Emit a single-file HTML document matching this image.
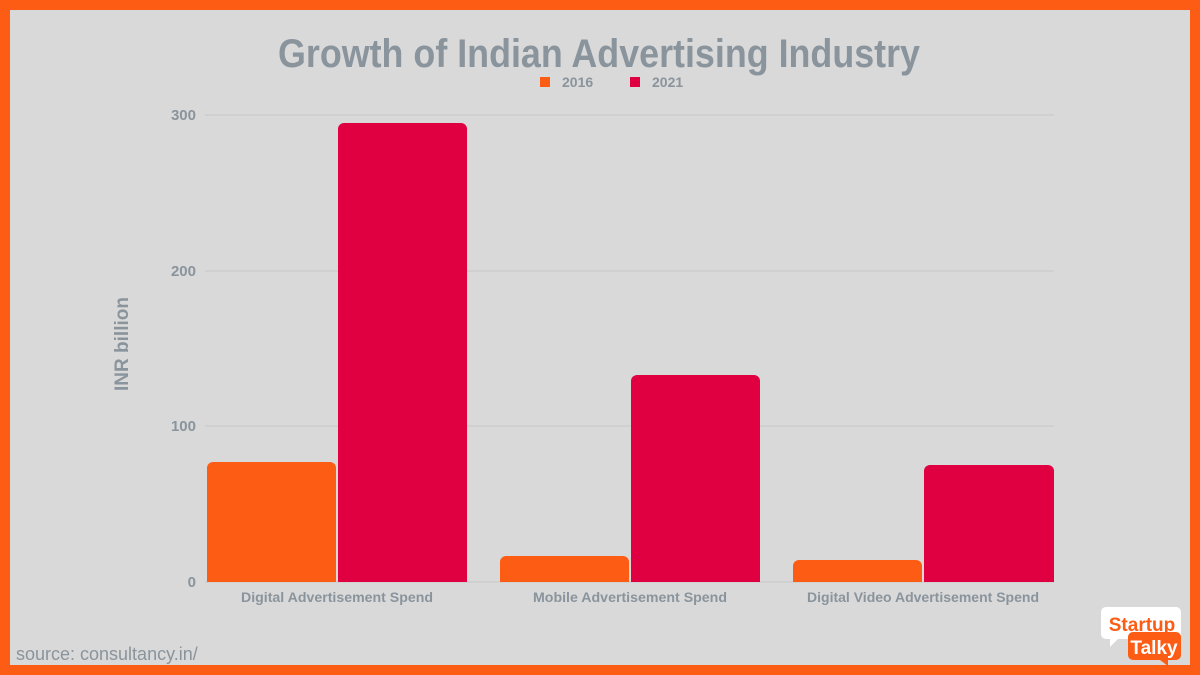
<!DOCTYPE html>
<html><head><style>
html,body{margin:0;padding:0;}
body{width:1200px;height:675px;overflow:hidden;background:#fd5c14;}
</style></head><body>
<svg width="1200" height="675" xmlns="http://www.w3.org/2000/svg" font-family="Liberation Sans, sans-serif" style="display:block">
<rect x="0" y="0" width="1200" height="675" fill="#fd5c14"/>
<rect x="10" y="10" width="1180" height="655" fill="#d9d9d9"/>
<text x="599" y="67" text-anchor="middle" font-size="40" font-weight="bold" fill="#8a949c" textLength="642" lengthAdjust="spacingAndGlyphs">Growth of Indian Advertising Industry</text>
<rect x="540" y="77" width="10" height="10" fill="#fd5c14"/>
<text x="562" y="87" font-size="14" font-weight="bold" fill="#8a949c">2016</text>
<rect x="630" y="77" width="10" height="10" fill="#e00042"/>
<text x="652" y="87" font-size="14" font-weight="bold" fill="#8a949c">2021</text>
<g stroke="#c6c6c6" stroke-width="1">
<line x1="205" y1="115" x2="1054" y2="115"/>
<line x1="205" y1="271" x2="1054" y2="271"/>
<line x1="205" y1="426" x2="1054" y2="426"/>
<line x1="205" y1="582" x2="1054" y2="582"/>
</g>
<g font-size="15" font-weight="bold" fill="#8a949c" text-anchor="end">
<text x="196" y="120">300</text>
<text x="196" y="276">200</text>
<text x="196" y="431">100</text>
<text x="196" y="587">0</text>
</g>
<text transform="translate(128,344) rotate(-90)" text-anchor="middle" font-size="19" font-weight="bold" fill="#8a949c">INR billion</text>
<g>
<path d="M207,582 V468 a6,6 0 0 1 6,-6 H330 a6,6 0 0 1 6,6 V582Z" fill="#fd5c14"/>
<path d="M338,582 V129 a6,6 0 0 1 6,-6 H461 a6,6 0 0 1 6,6 V582Z" fill="#e00042"/>
<path d="M500,582 V562 a6,6 0 0 1 6,-6 H623 a6,6 0 0 1 6,6 V582Z" fill="#fd5c14"/>
<path d="M631,582 V381 a6,6 0 0 1 6,-6 H754 a6,6 0 0 1 6,6 V582Z" fill="#e00042"/>
<path d="M793,582 V566 a6,6 0 0 1 6,-6 H916 a6,6 0 0 1 6,6 V582Z" fill="#fd5c14"/>
<path d="M924,582 V471 a6,6 0 0 1 6,-6 H1048 a6,6 0 0 1 6,6 V582Z" fill="#e00042"/>
</g>
<g font-size="14" font-weight="bold" fill="#8a949c" text-anchor="middle">
<text x="337" y="602" textLength="192" lengthAdjust="spacingAndGlyphs">Digital Advertisement Spend</text>
<text x="630" y="602" textLength="194" lengthAdjust="spacingAndGlyphs">Mobile Advertisement Spend</text>
<text x="923" y="602" textLength="232" lengthAdjust="spacingAndGlyphs">Digital Video Advertisement Spend</text>
</g>
<text x="16" y="660" font-size="18" fill="#8a949c">source: consultancy.in/</text>
<path d="M1106,607 h70 a5,5 0 0 1 5,5 v22 a5,5 0 0 1 -5,5 h-58 l-8,8 v-8 h-4 a5,5 0 0 1 -5,-5 v-22 a5,5 0 0 1 5,-5z" fill="#ffffff"/>
<text x="1142" y="631" text-anchor="middle" font-size="19" font-weight="bold" fill="#fd5c14">Startup</text>
<path d="M1133,632 h43 a5,5 0 0 1 5,5 v18 a5,5 0 0 1 -5,5 h-8 v6 l-8,-6 h-27 a5,5 0 0 1 -5,-5 v-18 a5,5 0 0 1 5,-5z" fill="#fd5c14"/>
<text x="1154" y="654" text-anchor="middle" font-size="19" font-weight="bold" fill="#ffffff">Talky</text>
</svg>
</body></html>
